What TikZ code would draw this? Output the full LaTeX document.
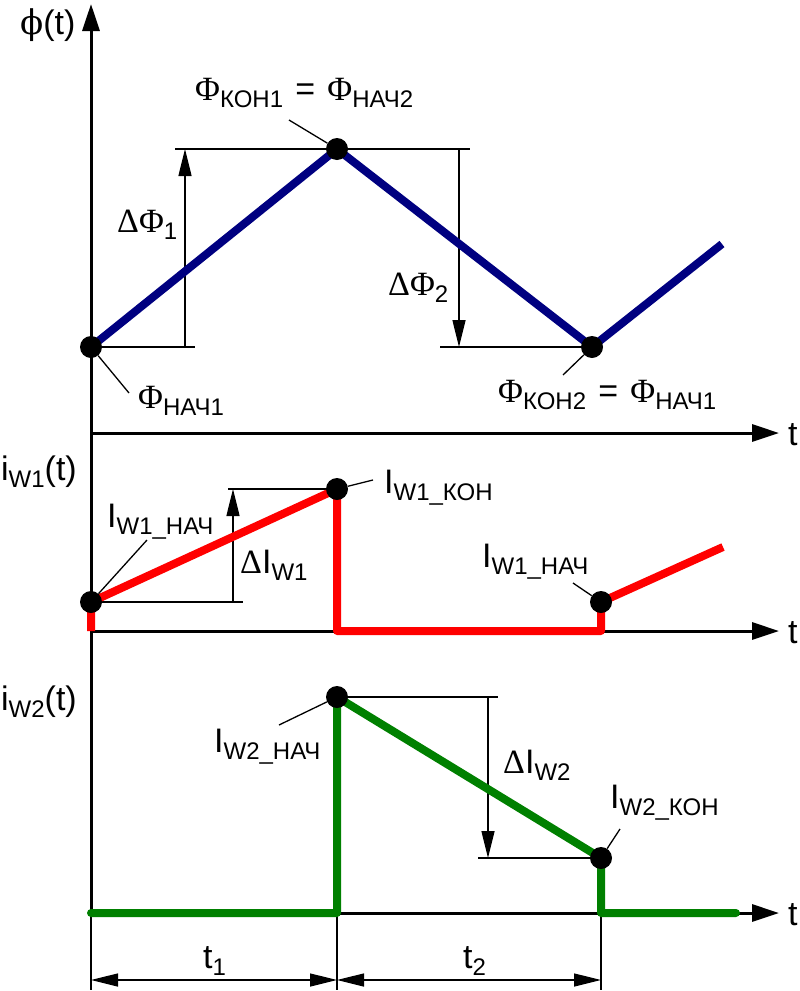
\documentclass[tikz,border=0pt]{standalone}
\usepackage{fontspec}
\setmainfont{Liberation Sans}
\newfontfamily\grk{Liberation Serif}
\newfontfamily\grkb{DejaVu Serif}
\usetikzlibrary{arrows.meta}
\definecolor{navyb}{RGB}{0,0,128}
\definecolor{grn}{RGB}{0,128,0}
\definecolor{rd}{RGB}{255,0,0}
\newcommand\lowsub[1]{\lower7pt\hbox{\fontsize{24}{24}\selectfont #1}}
\newcommand\PHI{{\grk Φ}}
\newcommand\DEL{{\grk Δ}}
\newcommand\EQS{\hspace{0.36em}=\hspace{0.36em}}
\begin{document}
\begin{tikzpicture}[x=1pt,y=-1pt,
  lbl/.style={inner sep=0pt,font=\fontsize{34}{38}\selectfont},
  axis/.style={line width=3pt,-{Triangle[length=27pt,width=17pt]}},
  thinl/.style={line width=1.3pt},
  dimarr/.style={line width=1.3pt,-{Triangle[length=27pt,width=13pt]}},
  dimboth/.style={line width=1.3pt,{Triangle[length=27pt,width=13pt]}-{Triangle[length=27pt,width=13pt]}},
  dot/.style={circle,fill=black,inner sep=0pt,minimum size=22pt},
  wave/.style={line width=8pt,line join=round},
]
\useasboundingbox (0,0) rectangle (800,991);
% ---------- coordinates ----------
\coordinate (ytop) at (91,4);
\coordinate (o1) at (91,433); \coordinate (e1) at (779,433);
\coordinate (o2) at (91,631); \coordinate (e2) at (779,631);
\coordinate (o3) at (91,913); \coordinate (e3) at (779,913);
% blue
\coordinate (cp0) at (91,347); \coordinate (cp1) at (337,149);
\coordinate (cp2) at (592,347); \coordinate (cp3) at (722,244);
% red
\coordinate (cr0) at (91,631); \coordinate (cr1) at (91,602);
\coordinate (cr2) at (337,489); \coordinate (cr3) at (337,631);
\coordinate (cr4) at (601,631); \coordinate (cr5) at (601,602);
\coordinate (cr6) at (723,547);
% green
\coordinate (cg0) at (91,913); \coordinate (cg1) at (337,913);
\coordinate (cg2) at (337,697); \coordinate (cg3) at (601,858);
\coordinate (cg4) at (601,913); \coordinate (cg5) at (736,913);
% ---------- axes ----------
\draw[axis] (o3) -- (ytop);
\draw[axis] (o1) -- (e1);
\draw[axis] (o2) -- (e2);
\draw[axis] (o3) -- (e3);
\node[lbl,anchor=base west] (tl1) at (788,445) {t};
\node[lbl,anchor=base west] (tl2) at (788,643) {t};
\node[lbl,anchor=base west] (tl3) at (788,925) {t};
% ---------- dimension lines top ----------
\coordinate (h1a) at (175,149); \coordinate (h1b) at (195,347);
\coordinate (v1a) at (185,347); \coordinate (v1b) at (185,149);
\draw[thinl] (h1a) -- (cp1);
\draw[thinl] (cp0) -- (h1b);
\draw[dimarr] (v1a) -- (v1b);
\coordinate (h2a) at (470,149); \coordinate (h2b) at (440,347);
\coordinate (v2a) at (459,149); \coordinate (v2b) at (459,347);
\draw[thinl] (cp1) -- (h2a);
\draw[thinl] (h2b) -- (cp2);
\draw[dimarr] (v2a) -- (v2b);
% middle
\coordinate (h3a) at (228,489); \coordinate (h3b) at (243,602);
\coordinate (v3a) at (233,602); \coordinate (v3b) at (233,489);
\draw[thinl] (h3a) -- (cr2);
\draw[thinl] (cr1) -- (h3b);
\draw[dimarr] (v3a) -- (v3b);
% bottom
\coordinate (h4a) at (498,697); \coordinate (h4b) at (478,858);
\coordinate (v4a) at (488,697); \coordinate (v4b) at (488,858);
\draw[thinl] (cg2) -- (h4a);
\draw[thinl] (h4b) -- (cg3);
\draw[dimarr] (v4a) -- (v4b);
% time dimensions
\coordinate (x0a) at (91,990); \coordinate (x1a) at (337,990); \coordinate (x2a) at (601,990);
\coordinate (x1t) at (337,913);
\coordinate (x2t) at (601,913);
\draw[thinl] (o3) -- (x0a);
\draw[thinl] (x1t) -- (x1a);
\draw[thinl] (x2t) -- (x2a);
\coordinate (d0) at (91,980); \coordinate (d1) at (337,980); \coordinate (d2) at (601,980);
\draw[dimboth] (d0) -- (d1);
\draw[dimboth] (d1) -- (d2);
% ---------- curves ----------
\draw[wave,navyb] (cp0) -- (cp1) -- (cp2) -- (cp3);
\draw[wave,rd] (cr0) -- (cr1) -- (cr2) -- (cr3) -- (cr4) -- (cr5) -- (cr6);
\draw[wave,grn,line cap=round] (cg0) -- (cg1) -- (cg2) -- (cg3) -- (cg4) -- (cg5);
% ---------- dots ----------
\node[dot] (dp0) at (cp0) {};
\node[dot] (dp1) at (cp1) {};
\node[dot] (dp2) at (cp2) {};
\node[dot] (dr1) at (cr1) {};
\node[dot] (dr2) at (cr2) {};
\node[dot] (dr5) at (cr5) {};
\node[dot] (dg2) at (cg2) {};
\node[dot] (dg3) at (cg3) {};
% ---------- leaders ----------
\coordinate (l1) at (289,120); \draw[thinl] (l1) -- (dp1);
\coordinate (l2) at (129,393); \draw[thinl] (dp0) -- (l2);
\coordinate (l3) at (563,375); \draw[thinl] (l3) -- (dp2);
\coordinate (l4) at (147,540); \draw[thinl] (dr1) -- (l4);
\coordinate (l5) at (373,480); \draw[thinl] (dr2) -- (l5);
\coordinate (l6) at (573,583); \draw[thinl] (l6) -- (dr5);
\coordinate (l7) at (279,725); \draw[thinl] (l7) -- (dg2);
\coordinate (l8) at (620,829); \draw[thinl] (l8) -- (dg3);
% ---------- labels ----------
\node[lbl,anchor=base west] (lphi) at (20,34) {{\grkb ϕ}(t)};
\node[lbl,anchor=base west] (lk1) at (195,100) {\PHI\lowsub{КОН1}\EQS\PHI\lowsub{НАЧ2}};
\node[lbl,anchor=base west] (ld1) at (117,232) {\DEL\PHI\lowsub{1}};
\node[lbl,anchor=base west] (ln1) at (138,408) {\PHI\lowsub{НАЧ1}};
\node[lbl,anchor=base west] (ld2) at (388,295) {\DEL\PHI\lowsub{2}};
\node[lbl,anchor=base west] (lk2) at (498,402) {\PHI\lowsub{КОН2}\EQS\PHI\lowsub{НАЧ1}};
\node[lbl,anchor=base east] (liw1) at (77,480) {i\lowsub{W1}(t)};
\node[lbl,anchor=base west] (lw1n) at (107,527) {I\lowsub{W1\_НАЧ}};
\node[lbl,anchor=base west] (ldw1) at (240,573) {\DEL I\lowsub{W1}};
\node[lbl,anchor=base west] (lw1k) at (384,493) {I\lowsub{W1\_КОН}};
\node[lbl,anchor=base west] (lw1n2) at (482,567) {I\lowsub{W1\_НАЧ}};
\node[lbl,anchor=base east] (liw2) at (77,710) {i\lowsub{W2}(t)};
\node[lbl,anchor=base west] (lw2n) at (214,752) {I\lowsub{W2\_НАЧ}};
\node[lbl,anchor=base west] (ldw2) at (503,773) {\DEL I\lowsub{W2}};
\node[lbl,anchor=base west] (lw2k) at (610,808) {I\lowsub{W2\_КОН}};
\node[lbl,anchor=base west] (lt1) at (203,968) {t\lowsub{1}};
\node[lbl,anchor=base west] (lt2) at (463,968) {t\lowsub{2}};
\end{tikzpicture}
\end{document}
